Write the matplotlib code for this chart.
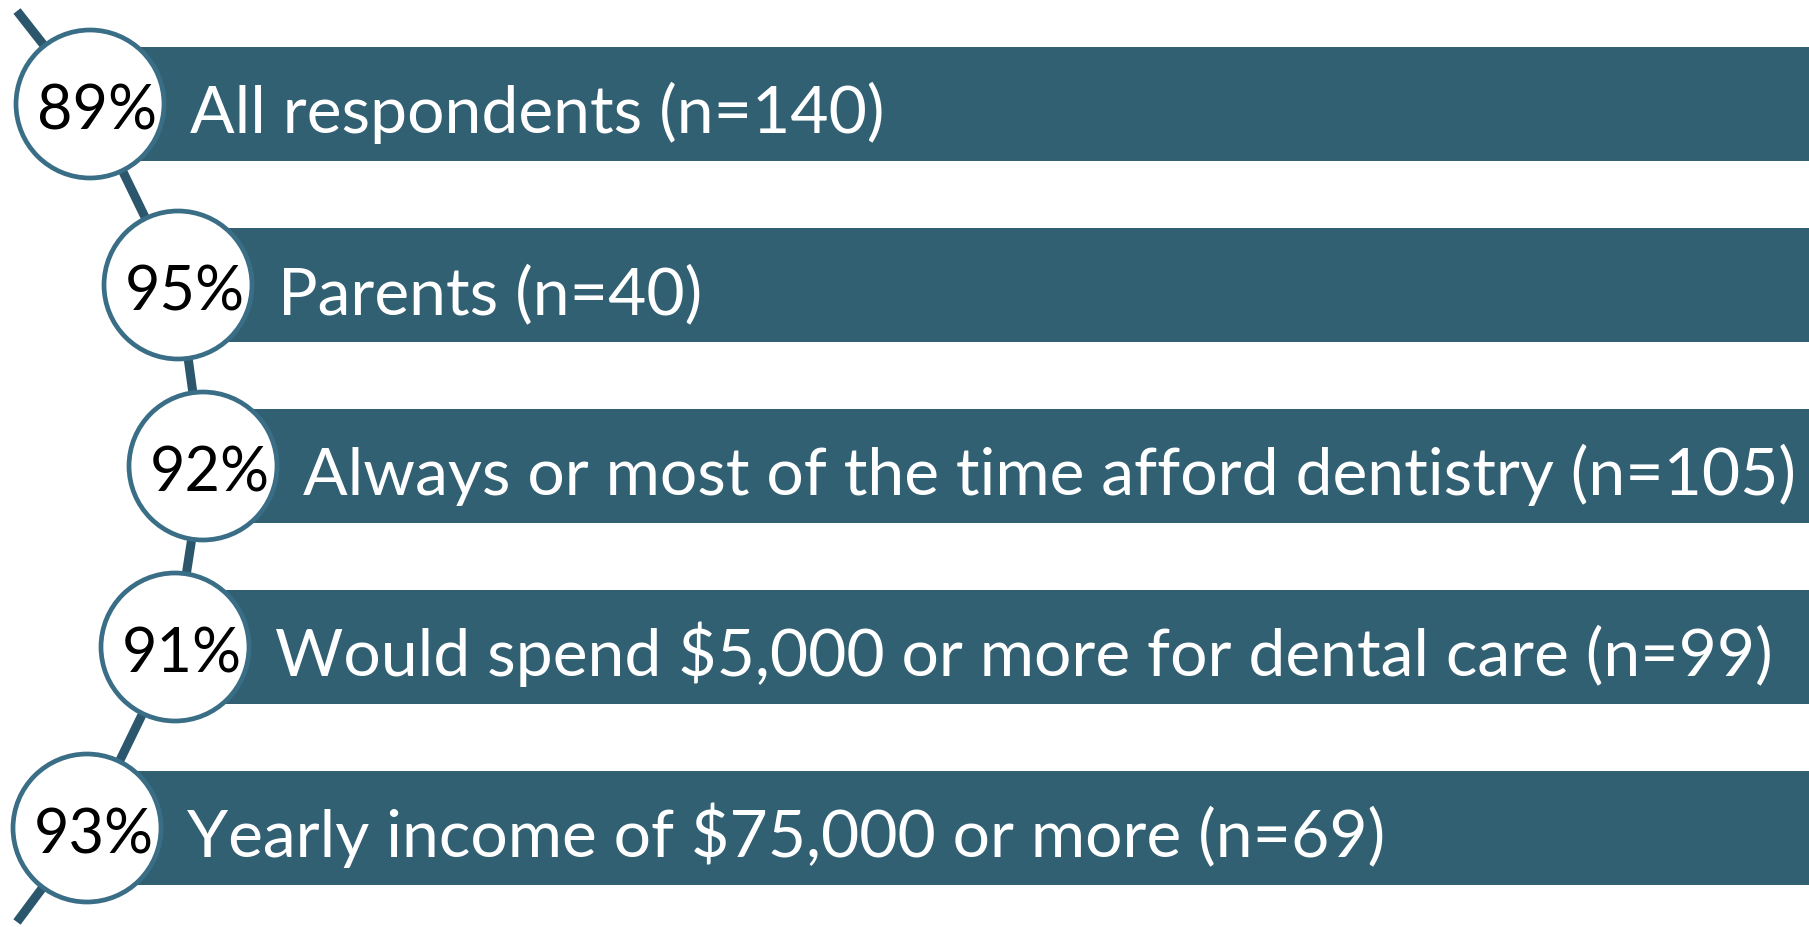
import matplotlib
matplotlib.use("Agg")
import matplotlib.pyplot as plt
from matplotlib.patches import Circle

# ---- data ----
groups = ["All respondents", "Parents", "Always or most of the time afford dentistry",
          "Would spend $5,000 or more for dental care", "Yearly income of $75,000 or more"]
n_values = [140, 40, 105, 99, 69]
percentages = [89, 95, 92, 91, 93]

# ---- layout (pixel-like units) ----
W, H = 1809, 928
y0, step = 105, 181
bar_h = 114
circle_x = [90, 178, 203, 175, 87]
radius = 74

bar_color = "#326073"
line_color = "#2b566b"
edge_color = "#3a6e86"

plt.rcParams['font.family'] = ['Lato', 'DejaVu Sans']
fig = plt.figure(figsize=(W / 100, H / 100), dpi=100)
ax = fig.add_axes([0, 0, 1, 1])
ax.set_xlim(0, W)
ax.set_ylim(H, 0)
ax.axis("off")

ys = [y0 + step * i for i in range(len(groups))]

# bars
ax.barh(ys, [W - cx for cx in circle_x], left=circle_x, height=bar_h,
        color=bar_color, zorder=1)

# connector line
px = [17] + circle_x + [17]
py = [12] + ys + [923]
ax.plot(px, py, color=line_color, lw=6.5, solid_capstyle="butt", zorder=2)

for i, (g, n, p) in enumerate(zip(groups, n_values, percentages)):
    cx, cy = circle_x[i], ys[i]
    ax.add_patch(Circle((cx, cy), radius, facecolor="white", edgecolor=edge_color,
                        lw=3.4, zorder=3))
    ax.text(cx + 7, cy + 25, f"{p}%", ha="center", va="baseline", fontsize=44,
            color="black", zorder=4, parse_math=False)
    ax.text(cx + 100, cy + 28, f"{g} (n={n})", ha="left", va="baseline", fontsize=47.5,
            color="white", zorder=4, parse_math=False)

fig.savefig("out.png", dpi=100)
